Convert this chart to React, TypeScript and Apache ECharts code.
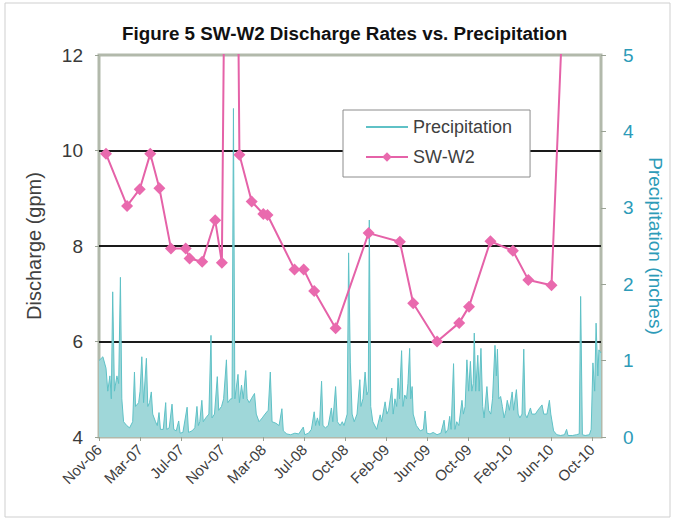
import React, { useEffect, useRef } from "react";
import * as echarts from "echarts";

// x values are days counted from the "Nov-06" axis label (labels every 117 days)
const tickDays = [0, 117, 234, 351, 468, 585, 702, 819, 936, 1053, 1170, 1287, 1404];
const tickLabels = ["Nov-06", "Mar-07", "Jul-07", "Nov-07", "Mar-08", "Jul-08", "Oct-08", "Feb-09", "Jun-09", "Oct-09", "Feb-10", "Jun-10", "Oct-10"];

// SW-W2 discharge (gpm)
const swDays = [20, 80, 116, 146, 172, 205, 247, 258, 294, 331, 350, 377, 400, 435, 468, 480, 557, 583, 613, 674, 768, 857, 895, 963, 1026, 1054, 1115, 1179, 1223, 1289, 1338];
const swValues = [9.93, 8.84, 9.19, 9.93, 9.21, 7.95, 7.95, 7.74, 7.67, 8.54, 7.65, 30, 9.91, 8.93, 8.67, 8.65, 7.51, 7.51, 7.06, 6.28, 8.27, 8.09, 6.8, 6.0, 6.39, 6.73, 8.1, 7.9, 7.29, 7.18, 16];

// Precipitation (inches): [day, value]
const precipitation: [number, number][] = [
  [0, 1.0], [11, 1.05], [20, 0.9], [25, 0.6], [31, 0.8], [35, 0.5], [39, 1.9], [44, 0.6], [51, 0.8], [56, 0.7], [61, 2.09], [65, 0.5], [70, 0.2], [79, 0.15], [87, 0.12], [96, 0.2], [101, 0.85], [104, 0.4], [113, 0.45], [117, 0.6], [122, 1.05], [127, 0.45], [135, 1.03], [139, 0.4], [144, 0.45], [149, 0.59], [153, 0.3], [161, 0.2], [166, 0.15], [171, 0.32], [175, 0.1], [183, 0.1], [190, 0.45], [193, 0.1], [200, 0.12], [208, 0.43], [213, 0.1], [220, 0.08], [227, 0.21], [231, 0.05], [239, 0.06], [251, 0.39], [255, 0.06], [265, 0.08], [273, 0.12], [279, 0.4], [283, 0.15], [287, 0.2], [293, 0.48], [297, 0.2], [304, 0.25], [313, 0.3], [319, 1.33], [322, 0.25], [329, 0.3], [337, 0.79], [341, 0.35], [349, 0.4], [355, 0.5], [363, 1.01], [367, 0.45], [375, 0.5], [379, 0.5], [383, 4.3], [387, 0.5], [396, 0.82], [400, 0.45], [406, 0.68], [411, 0.5], [418, 0.87], [422, 0.5], [428, 0.45], [434, 0.5], [443, 0.57], [448, 0.3], [456, 0.2], [465, 0.25], [473, 0.3], [482, 0.35], [488, 0.85], [493, 0.2], [504, 0.18], [513, 0.15], [521, 0.37], [525, 0.08], [535, 0.04], [546, 0.03], [558, 0.05], [569, 0.04], [582, 0.13], [586, 0.03], [597, 0.05], [605, 0.1], [613, 0.33], [617, 0.15], [622, 0.25], [628, 0.15], [634, 0.73], [638, 0.15], [645, 0.12], [653, 0.15], [662, 0.38], [666, 0.2], [674, 0.66], [679, 0.2], [687, 0.15], [693, 0.2], [698, 0.15], [707, 0.3], [711, 2.41], [716, 0.97], [721, 0.3], [727, 0.2], [735, 0.3], [743, 0.75], [746, 0.4], [752, 0.5], [758, 0.85], [763, 0.55], [767, 0.6], [770, 2.84], [774, 0.4], [780, 0.2], [791, 0.1], [801, 0.29], [805, 0.2], [815, 0.46], [820, 0.3], [825, 0.35], [834, 0.64], [838, 0.3], [843, 0.5], [848, 0.4], [852, 0.77], [856, 0.5], [862, 1.13], [866, 0.4], [871, 0.55], [876, 0.5], [880, 0.7], [885, 1.16], [888, 0.5], [892, 0.66], [895, 0.3], [904, 0.15], [915, 0.08], [924, 0.1], [929, 0.34], [934, 0.05], [943, 0.04], [952, 0.06], [963, 0.03], [974, 0.05], [983, 0.22], [987, 0.05], [994, 0.1], [999, 0.27], [1003, 0.1], [1010, 0.96], [1014, 0.1], [1019, 0.2], [1025, 0.15], [1034, 0.48], [1038, 0.3], [1043, 0.4], [1048, 1.01], [1053, 0.6], [1058, 0.99], [1062, 0.6], [1066, 0.7], [1069, 1.36], [1073, 0.6], [1079, 1.07], [1083, 0.6], [1088, 1.16], [1093, 0.4], [1097, 0.25], [1105, 0.66], [1110, 0.35], [1116, 0.3], [1121, 0.5], [1128, 1.2], [1132, 0.8], [1135, 1.15], [1139, 0.5], [1144, 0.53], [1149, 0.4], [1154, 0.25], [1159, 0.35], [1163, 0.48], [1169, 0.35], [1177, 0.59], [1181, 0.35], [1189, 0.62], [1194, 0.3], [1199, 0.25], [1205, 0.3], [1210, 1.15], [1214, 0.3], [1219, 0.25], [1229, 0.38], [1233, 0.3], [1243, 0.3], [1250, 0.35], [1262, 0.42], [1267, 0.3], [1276, 0.3], [1283, 0.48], [1287, 0.3], [1295, 0.08], [1304, 0.03], [1315, 0.02], [1326, 0.03], [1332, 0.1], [1336, 0.02], [1349, 0.02], [1360, 0.03], [1368, 0.04], [1372, 1.84], [1377, 0.03], [1385, 0.02], [1397, 0.03], [1402, 0.1], [1407, 0.97], [1412, 0.6], [1416, 1.49], [1421, 0.8], [1424, 1.14], [1430, 1.1],
];

const FONT = "Liberation Sans, Arial, sans-serif";
const PINK = "#e562a8";
const TEAL_LINE = "#5fc1c6";
const TEAL_FILL = "#9fd7d9";
const TEAL_TEXT = "#2d9bb8";

export default function App() {
  const ref = useRef<HTMLDivElement>(null);
  useEffect(() => {
    if (!ref.current) return;
    const chart = echarts.init(ref.current, undefined, { renderer: "svg" });
    const swData = swDays.map((d, i) => [d, swValues[i]]);
    chart.setOption({
      animation: false,
      backgroundColor: "#ffffff",
      title: {
        text: "Figure 5 SW-W2 Discharge Rates vs. Precipitation",
        left: 117,
        top: 19,
        textStyle: { fontSize: 18.8, fontWeight: "bold", color: "#111", fontFamily: FONT },
      },
      graphic: [
        {
          type: "rect",
          shape: { x: 5, y: 3, width: 665, height: 514 },
          style: { fill: "none", stroke: "#cfcfcf", lineWidth: 1 },
          silent: true,
          z: -1,
        },
      ],
      legend: {
        orient: "vertical",
        left: 343,
        top: 110,
        itemWidth: 42,
        itemHeight: 12,
        itemGap: 12,
        padding: [8, 18, 11, 22],
        backgroundColor: "#ffffff",
        borderColor: "#8c8c8c",
        borderWidth: 1,
        textStyle: { fontSize: 18, color: "#404040", fontFamily: FONT, lineHeight: 18 },
        data: [
          { name: "Precipitation", icon: "path://M0,0 L42,0 L42,2 L0,2 Z" },
          { name: "SW-W2" },
        ],
      },
      grid: {
        left: 99,
        right: 66,
        top: 55,
        bottom: 92,
        show: true,
        borderColor: "#b2b9ab",
        borderWidth: 3,
        backgroundColor: "transparent",
      },
      xAxis: {
        type: "value",
        min: 0,
        max: 1430,
        axisLine: { show: false },
        splitLine: { show: false },
        axisTick: { show: true, length: 4, lineStyle: { color: "#9aa294" }, customValues: tickDays },
        axisLabel: {
          customValues: tickDays,
          rotate: 45,
          margin: 10,
          fontSize: 15,
          color: "#404040",
          fontFamily: FONT,
          formatter: (v: number) => {
            const i = tickDays.indexOf(Math.round(v));
            return i >= 0 ? tickLabels[i] : "";
          },
        },
      },
      yAxis: [
        {
          type: "value",
          min: 4,
          max: 12,
          interval: 2,
          name: "Discharge (gpm)",
          nameLocation: "middle",
          nameGap: 55,
          nameTextStyle: { fontSize: 20, color: "#404040", fontFamily: FONT },
          axisLine: { show: false },
          axisTick: { show: true, length: 4, lineStyle: { color: "#9aa294" } },
          axisLabel: { fontSize: 19, color: "#3a3a3a", fontFamily: FONT, margin: 16 },
          splitLine: {
            show: true,
            showMinLine: false,
            showMaxLine: false,
            lineStyle: { color: "#1a1a1a", width: 2 },
          },
        },
        {
          type: "value",
          min: 0,
          max: 5,
          interval: 1,
          position: "right",
          name: "Precipitation (inches)",
          nameLocation: "middle",
          nameGap: 45,
          nameRotate: -90,
          nameTextStyle: { fontSize: 19, color: TEAL_TEXT, fontFamily: FONT },
          axisLine: { show: false },
          axisTick: { show: true, length: 5, lineStyle: { color: "#9aa294" } },
          axisLabel: { fontSize: 19, color: TEAL_TEXT, fontFamily: FONT, margin: 22 },
          splitLine: { show: false },
        },
      ],
      series: [
        {
          name: "Precipitation",
          type: "line",
          yAxisIndex: 1,
          data: precipitation,
          symbol: "none",
          lineStyle: { color: TEAL_LINE, width: 1 },
          itemStyle: { color: TEAL_LINE },
          areaStyle: { color: TEAL_FILL, opacity: 1 },
          z: 1,
        },
        {
          name: "SW-W2",
          type: "line",
          yAxisIndex: 0,
          data: swData,
          symbol: "diamond",
          symbolSize: 12,
          lineStyle: { color: PINK, width: 2 },
          itemStyle: { color: "#e96aae" },
          z: 3,
        },
      ],
    });
    return () => chart.dispose();
  }, []);
  return <div ref={ref} style={{ position: "fixed", left: 0, top: 0, width: 673, height: 529 }} />;
}
